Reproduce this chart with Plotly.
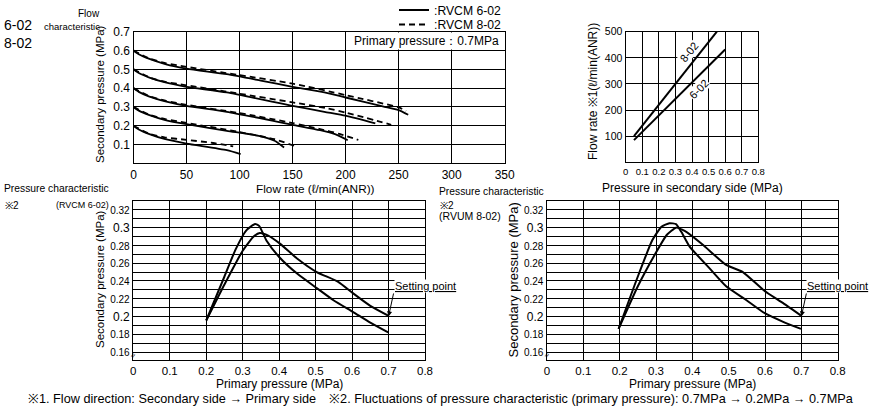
import plotly.graph_objects as go

# ---------------- data ----------------
# Flow characteristic, primary pressure 0.7 MPa: flow (l/min(ANR)) vs secondary pressure (MPa)
# RVCM 6-02 (solid)
s1_q = [0, 5, 15, 30, 50, 88, 120, 150, 180, 200, 235, 250, 259]
s1_p = [0.6, 0.58, 0.555, 0.528, 0.504, 0.474, 0.44, 0.407, 0.377, 0.35, 0.303, 0.283, 0.258]
s2_q = [0, 5, 15, 30, 50, 88, 150, 180, 200, 228]
s2_p = [0.5, 0.48, 0.456, 0.43, 0.407, 0.377, 0.306, 0.274, 0.253, 0.212]
s3_q = [0, 5, 15, 30, 50, 88, 150, 176, 190, 202]
s3_p = [0.4, 0.38, 0.355, 0.33, 0.306, 0.274, 0.205, 0.176, 0.155, 0.123]
s4_q = [0, 5, 15, 30, 50, 88, 118, 133, 142]
s4_p = [0.3, 0.28, 0.256, 0.23, 0.208, 0.173, 0.146, 0.12, 0.084]
s5_q = [0, 5, 15, 30, 50, 88, 101]
s5_p = [0.2, 0.18, 0.155, 0.128, 0.105, 0.07, 0.049]
# RVCM 8-02 (dashed)
d1_q = [0, 15, 30, 50, 100, 150, 200, 250, 257]
d1_p = [0.6, 0.557, 0.533, 0.513, 0.469, 0.424, 0.363, 0.297, 0.279]
d2_q = [0, 15, 30, 50, 100, 150, 181, 200, 243]
d2_p = [0.5, 0.457, 0.433, 0.415, 0.37, 0.324, 0.294, 0.27, 0.205]
d3_q = [0, 15, 30, 50, 100, 150, 176, 195, 212]
d3_p = [0.4, 0.357, 0.333, 0.311, 0.267, 0.214, 0.182, 0.155, 0.124]
d4_q = [0, 15, 30, 50, 100, 133, 153]
d4_p = [0.3, 0.258, 0.235, 0.215, 0.166, 0.128, 0.09]
d5_q = [0, 15, 30, 50, 75, 94]
d5_p = [0.2, 0.157, 0.137, 0.125, 0.108, 0.09]

# Flow rate vs pressure in secondary side
f8_x = [0.05, 0.55]
f8_y = [100, 500]
f6_x = [0.05, 0.6]
f6_y = [85, 432]

# Pressure characteristic RVCM 6-02 (primary -> secondary pressure, MPa)
a3_x = [0.2, 0.25, 0.28, 0.31, 0.334, 0.345, 0.366, 0.40, 0.45, 0.503, 0.55, 0.603, 0.65, 0.699]
a3_y = [0.1955, 0.245, 0.275, 0.297, 0.304, 0.302, 0.285, 0.267, 0.248, 0.232, 0.218, 0.205, 0.193, 0.182]
b3_x = [0.2, 0.25, 0.3, 0.33, 0.347, 0.37, 0.402, 0.45, 0.503, 0.562, 0.603, 0.65, 0.699]
b3_y = [0.1955, 0.236, 0.274, 0.29, 0.294, 0.291, 0.282, 0.265, 0.25, 0.239, 0.226, 0.212, 0.201]
# Pressure characteristic RVUM 8-02
a4_x = [0.197, 0.25, 0.29, 0.315, 0.337, 0.355, 0.37, 0.392, 0.45, 0.493, 0.55, 0.598, 0.65, 0.699]
a4_y = [0.186, 0.245, 0.286, 0.301, 0.305, 0.304, 0.295, 0.279, 0.253, 0.234, 0.218, 0.204, 0.194, 0.186]
b4_x = [0.197, 0.25, 0.3, 0.33, 0.355, 0.38, 0.428, 0.493, 0.539, 0.598, 0.65, 0.699]
b4_y = [0.186, 0.234, 0.272, 0.292, 0.3, 0.296, 0.281, 0.258, 0.25, 0.229, 0.215, 0.201]

flow_ticks = [0, 50, 100, 150, 200, 250, 300, 350]
sec_ticks = [0.1, 0.2, 0.3, 0.4, 0.5, 0.6, 0.7]
sec_ticktext = ["0.1", "0.2", "0.3", "0.4", "0.5", "0.6", "0.7"]
rate_ticks = [100, 200, 300, 400, 500]
rate_ticktext = ["100", "200", "300", "400", "500"]
p_ticks = [0, 0.1, 0.2, 0.3, 0.4, 0.5, 0.6, 0.7, 0.8]
p_ticktext = ["0", "0.1", "0.2", "0.3", "0.4", "0.5", "0.6", "0.7", "0.8"]
sp_ticks = [0.16, 0.18, 0.2, 0.22, 0.24, 0.26, 0.28, 0.3, 0.32]
sp_ticktext = ["0.16", "0.18", "0.2", "0.22", "0.24", "0.26", "0.28", "0.3", "0.32"]

FONT = "Liberation Sans, Arial, sans-serif"

fig = go.Figure()

LW = 1.8
solid = [(s1_q, s1_p), (s2_q, s2_p), (s3_q, s3_p), (s4_q, s4_p), (s5_q, s5_p)]
dashed = [(d1_q, d1_p), (d2_q, d2_p), (d3_q, d3_p), (d4_q, d4_p), (d5_q, d5_p)]
for i, (q, p) in enumerate(solid):
    fig.add_trace(go.Scatter(x=q, y=p, mode="lines", line=dict(color="black", width=LW, shape="spline", smoothing=0.6),
                             name=":RVCM 6-02", showlegend=(i == 0), legend="legend", xaxis="x", yaxis="y"))
for i, (q, p) in enumerate(dashed):
    fig.add_trace(go.Scatter(x=q, y=p, mode="lines", line=dict(color="black", width=LW, dash="6px,4px", shape="spline", smoothing=0.6),
                             name=":RVCM 8-02", showlegend=(i == 0), legend="legend2", xaxis="x", yaxis="y"))

fig.add_trace(go.Scatter(x=f8_x, y=f8_y, mode="lines", line=dict(color="black", width=2), showlegend=False, xaxis="x2", yaxis="y2"))
fig.add_trace(go.Scatter(x=f6_x, y=f6_y, mode="lines", line=dict(color="black", width=2), showlegend=False, xaxis="x2", yaxis="y2"))

for xs, ys, xa, ya in [(a3_x, a3_y, "x3", "y3"), (b3_x, b3_y, "x3", "y3"), (a4_x, a4_y, "x4", "y4"), (b4_x, b4_y, "x4", "y4")]:
    fig.add_trace(go.Scatter(x=xs, y=ys, mode="lines", line=dict(color="black", width=2, shape="spline", smoothing=0.5),
                             showlegend=False, xaxis=xa, yaxis=ya))

W, H = 876, 406
def px(x):
    return x / W
def py(y):
    return 1 - y / H

def axis(domain, rng, tickvals, ticktext, size=12, anchor=None, minor=None):
    d = dict(domain=domain, range=rng, tickmode="array", tickvals=tickvals, ticktext=ticktext, tickangle=0,
             showgrid=True, gridcolor="#000000", gridwidth=1, layer="below traces",
             showline=True, mirror=True, linecolor="#000000", linewidth=1.4, ticks="", zeroline=False,
             automargin=False, tickfont=dict(size=size, family=FONT, color="black"), anchor=anchor)
    if minor is not None:
        d["minor"] = minor
    return d

sp_ticktext_styled = [t if t in ("0.3", "0.2") else "<span style='font-size:10px'>%s</span>" % t for t in sp_ticktext]
minor_y = dict(tickmode="linear", dtick=0.01, tick0=0.15, showgrid=True, gridcolor="#000000", gridwidth=1, ticks="")

fig.update_layout(
    width=W, height=H, margin=dict(l=0, r=0, t=0, b=0, autoexpand=False),
    paper_bgcolor="white", plot_bgcolor="white",
    font=dict(family=FONT, color="black", size=12),
    xaxis=axis([px(133.5), px(504.7)], [0, 350], flow_ticks, [str(v) for v in flow_ticks], anchor="y"),
    yaxis=axis([py(163.3), py(31.7)], [0, 0.7], sec_ticks, sec_ticktext, anchor="x"),
    xaxis2=axis([px(625.7), px(758.3)], [0, 0.8], p_ticks, p_ticktext, size=9.5, anchor="y2"),
    yaxis2=axis([py(162.3), py(31.7)], [0, 500], rate_ticks, rate_ticktext, size=10.5, anchor="x2"),
    xaxis3=axis([px(133.3), px(425)], [0, 0.8], p_ticks, p_ticktext, size=11.5, anchor="y3"),
    yaxis3=axis([py(360), py(201)], [0.151, 0.33], sp_ticks, sp_ticktext_styled, anchor="x3", minor=minor_y),
    xaxis4=axis([px(547), px(837.7)], [0, 0.8], p_ticks, p_ticktext, size=11.5, anchor="y4"),
    yaxis4=axis([py(360), py(201)], [0.151, 0.33], sp_ticks, sp_ticktext_styled, anchor="x4", minor=minor_y),
    legend=dict(x=px(394), y=py(10), xanchor="left", yanchor="middle", bgcolor="rgba(0,0,0,0)",
                font=dict(size=12.2, family=FONT), borderwidth=0, itemwidth=30),
    legend2=dict(x=px(394), y=py(24.5), xanchor="left", yanchor="middle", bgcolor="rgba(0,0,0,0)",
                 font=dict(size=12.2, family=FONT), borderwidth=0, itemwidth=30),
)

ann = []
def txt(text, x, y, size=10, xanchor="left", angle=0, yanchor="middle"):
    ann.append(dict(text=text, x=x, y=y, xref="paper", yref="paper", showarrow=False, xanchor=xanchor,
                    yanchor=yanchor, textangle=angle, font=dict(size=size, family=FONT, color="black")))

# panel labels
txt("Flow", px(102), py(13), 10, "right")
txt("characteristic", px(102), py(27), 9.5, "right")
txt("6-02", px(2), py(25), 14)
txt("8-02", px(2), py(43), 14)
txt("Pressure characteristic", px(2), py(189), 10.3)
txt("※2", px(3), py(205), 10)
txt("(RVCM 6-02)", px(111), py(205), 9, "right")
txt("Pressure characteristic", px(437), py(191.5), 10.3)
txt("※2", px(438), py(205.5), 10)
txt("(RVUM 8-02)", px(437), py(215.5), 10.5)
# axis titles
txt("Secondary pressure (MPa)", px(100), py(94), 11.5, "center", angle=-90)
txt("Flow rate (ℓ/min(ANR))", px(315), py(188.5), 11.8, "center")
txt("Flow rate ※1(ℓ/min(ANR))", px(593), py(92), 12, "center", angle=-90)
txt("Pressure in secondary side (MPa)", px(692), py(188), 12, "center")
txt("Secondary pressure (MPa)", px(100), py(279), 11.5, "center", angle=-90)
txt("Primary pressure (MPa)", px(279), py(384), 12, "center")
txt("Secondary pressure (MPa)", px(512.5), py(280), 13, "center", angle=-90)
txt("Primary pressure (MPa)", px(692), py(384), 12, "center")
txt("※1. Flow direction: Secondary side → Primary side　※2. Fluctuations of pressure characteristic (primary pressure): 0.7MPa → 0.2MPa → 0.7MPa",
    px(441), py(398.5), 12.7, "center")

# in-plot labels
ann.append(dict(text="Primary pressure：0.7MPa", x=px(501), y=py(41), xref="paper", yref="paper", showarrow=False,
                xanchor="right", yanchor="middle", bgcolor="white", borderpad=1,
                font=dict(size=12, family=FONT, color="black")))
ann.append(dict(text="8-02", x=0.382, y=422, xref="x2", yref="y2", showarrow=False, textangle=-51, bgcolor="white",
                borderpad=0, font=dict(size=11, family=FONT, color="black")))
ann.append(dict(text="6-02", x=0.442, y=280, xref="x2", yref="y2", showarrow=False, textangle=-46, bgcolor="white",
                borderpad=0, font=dict(size=11, family=FONT, color="black")))
for xr, yr in [("x3", "y3"), ("x4", "y4")]:
    ann.append(dict(text="<u>Setting point</u>", x=0.7, y=0.2, xref=xr, yref=yr, showarrow=True, ax=5, ay=-23,
                    xanchor="left", yanchor="bottom", arrowhead=2, arrowsize=1, arrowwidth=1, arrowcolor="black",
                    bgcolor="white", borderpad=0, font=dict(size=11, family=FONT, color="black")))
    ann.append(dict(text="≈", x=0, y=0.156, xref=xr, yref=yr, showarrow=False, textangle=-60,
                    font=dict(size=8, family=FONT, color="black")))

fig.update_layout(annotations=ann)
fig.write_html("out.html", config={"displayModeBar": False},
               post_script="document.body.style.margin='0';document.body.style.padding='0';")
